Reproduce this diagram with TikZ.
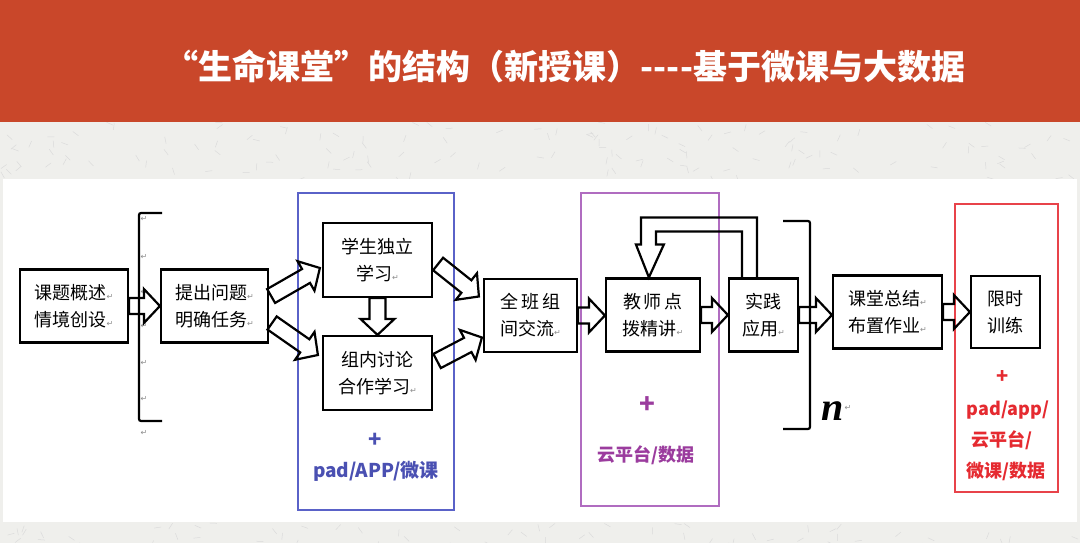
\documentclass[tikz,border=0pt]{standalone}
\usepackage{fontspec}
\usetikzlibrary{calc}
\newfontfamily\cjk{Noto Sans CJK SC}
\newfontfamily\djv{DejaVu Sans}
\newfontfamily\tms{Liberation Serif}
\definecolor{hdr}{HTML}{C9472A}
\definecolor{paper}{HTML}{EFEFEC}
\definecolor{bluebox}{HTML}{5A62C8}
\definecolor{bluetxt}{HTML}{4A50B2}
\definecolor{purpbox}{HTML}{B06CC0}
\definecolor{purptxt}{HTML}{9B3C9E}
\definecolor{redbox}{HTML}{E8434A}
\definecolor{redtxt}{HTML}{E52A30}
\newcommand\pmk{{\djv\fontsize{8}{8}\selectfont\textcolor{black!45}{↵}}}
\newcommand\barrow[2]{%
  \coordinate (bac) at ($(#2)!16pt!(#1)$);
  \draw[blk] ($(#1)!8pt!90:(#2)$) -- ($(bac)!8pt!90:(#2)$) -- ($(bac)!17pt!90:(#2)$) -- (#2)
    -- ($(bac)!17pt!-90:(#2)$) -- ($(bac)!8pt!-90:(#2)$) -- ($(#1)!8pt!-90:(#2)$) -- cycle;
}
\begin{document}
\begin{tikzpicture}[x=1pt,y=-1pt,
  box/.style={draw, line width=2.2pt, inner sep=0pt, align=center, font=\cjk\fontsize{18}{27}\selectfont},
  blk/.style={draw, line width=2.2pt, line join=miter},
  pm/.style={font=\djv\fontsize{8}{8}\selectfont, text=black!45, inner sep=0pt},
  frame/.style={line width=1.1pt},
]
\useasboundingbox (0,0) rectangle (1080,543);
\fill[paper] (0,0) rectangle (1080,543);
\pgfmathsetseed{11}
\foreach \i in {1,...,140} {
  \pgfmathsetmacro\xx{rnd*1080}
  \pgfmathsetmacro\yy{122+rnd*57}
  \pgfmathsetmacro\aa{rnd*180}
  \draw[black!14, line width=0.5pt] (\xx,\yy) -- ++(\aa:7);
}
\foreach \i in {1,...,60} {
  \pgfmathsetmacro\xx{rnd*1080}
  \pgfmathsetmacro\yy{523+rnd*20}
  \pgfmathsetmacro\aa{rnd*180}
  \draw[black!14, line width=0.5pt] (\xx,\yy) -- ++(\aa:7);
}
\fill[hdr] (0,0) rectangle (1080,122);
\fill[white] (3,179) rectangle (1077,522);
\node[font=\cjk\bfseries\fontsize{34}{34}\selectfont, text=white] (title) at (565,66) {“生命课堂”的结构（新授课）----基于微课与大数据};

% side frames
\draw[bluebox, frame] (298,193) rectangle (454,510);
\draw[purpbox, frame] (581,193) rectangle (719,506);
\draw[redbox, frame] (955,204) rectangle (1058,492);

% boxes
\node[box, minimum width=108pt, minimum height=73pt] (b1) at (74,306) {课题概述\pmk\\情境创设\pmk};
\node[box, minimum width=107pt, minimum height=73pt] (b2) at (214.5,306) {提出问题\pmk\\明确任务\pmk};
\node[box, minimum width=109pt, minimum height=74pt] (b3) at (377.5,260) {学生独立\\学习\pmk};
\node[box, minimum width=109pt, minimum height=74pt] (b4) at (377.5,373) {组内讨论\\合作学习\pmk};
\node[box, minimum width=93pt, minimum height=73pt] (b5) at (530.5,315.5) {全\,班\,组\\间交流\pmk};
\node[box, minimum width=94pt, minimum height=73pt] (b6) at (653,315) {教\,师\,点\\拨精讲\pmk};
\node[box, minimum width=69pt, minimum height=73pt] (b7) at (763.5,315) {实践\\应用\pmk};
\node[box, minimum width=109pt, minimum height=73pt] (b8) at (887.5,312) {课堂总结\pmk\\布置作业\pmk};
\node[box, minimum width=69pt, minimum height=72pt] (b9) at (1005.5,312) {限时\\训练};

% brackets
\draw[line width=2.2pt, rounded corners=2pt] (162,213) -- (139,213) -- (139,421) -- (162,421);
\draw[line width=2.2pt, rounded corners=2pt] (783,221) -- (810,221) -- (810,429) -- (783,429);
\foreach \yy in {219,257,292,326,363,399,433} \node[pm] at (144,\yy) {↵};
\node[font=\tms\bfseries\itshape\fontsize{40}{40}\selectfont, inner sep=0pt] (n) at (833,411) {n};
\node[pm, anchor=west] at ([yshift=3pt]n.east) {↵};

% block arrows
\coordinate (a12e) at (b1.east -| b2.west);
\barrow{b1.east}{a12e}
\coordinate (a23s) at ($(b2.east)+(2,-10)$);
\coordinate (a23e) at ($(b3.west)+(-2,8)$);
\barrow{a23s}{a23e}
\coordinate (a24s) at ($(b2.east)+(3,17)$);
\coordinate (a24e) at ($(b4.west)+(-4,-18)$);
\barrow{a24s}{a24e}
\barrow{b3.south}{b4.north}
\coordinate (a35s) at ($(b3.east)+(5,4)$);
\coordinate (a35e) at ($(b5.west)+(-4,-19)$);
\barrow{a35s}{a35e}
\coordinate (a45s) at ($(b4.east)+(4,-12)$);
\coordinate (a45e) at ($(b5.west)+(-1,22)$);
\barrow{a45s}{a45e}
\coordinate (a56e) at (b5.east -| b6.west);
\barrow{b5.east}{a56e}
\coordinate (a67e) at (b6.east -| b7.west);
\barrow{b6.east}{a67e}
\coordinate (a78e) at (b7.east -| b8.west);
\barrow{b7.east}{a78e}
\coordinate (a89e) at (b8.east -| b9.west);
\barrow{b8.east}{a89e}

% loop arrow from b7 back to b6
\draw[blk] ($(b7.north west)+(14,0)$) -- ($(b7.north west)+(14,-46)$) -- ($(b6.north west)+(51,-46)$)
  -- ($(b6.north west)+(51,-33)$) -- ($(b6.north west)+(59,-33)$) -- ($(b6.north west)+(44,0)$)
  -- ($(b6.north west)+(31,-33)$) -- ($(b6.north west)+(36,-33)$) -- ($(b6.north west)+(36,-60)$)
  -- ($(b7.north west)+(29,-60)$) -- ($(b7.north west)+(29,0)$);

% tool labels
\node[text=bluetxt, font=\cjk\bfseries\fontsize{22}{22}\selectfont] (bplus) at (375,440) {+};
\node[text=bluetxt, font=\cjk\bfseries\fontsize{19}{19}\selectfont] (btxt) at (376,471) {pad/APP/微课};
\node[text=purptxt, font=\cjk\bfseries\fontsize{26}{26}\selectfont] (pplus) at (647,405) {+};
\node[text=purptxt, font=\cjk\bfseries\fontsize{18}{18}\selectfont] (ptxt) at (646,455) {云平台/数据};
\node[text=redtxt, font=\cjk\bfseries\fontsize{20}{20}\selectfont] (rplus) at (1003,377) {+};
\node[text=redtxt, font=\cjk\bfseries\fontsize{18}{18}\selectfont] (r1) at (1008,410) {pad/app/};
\node[text=redtxt, font=\cjk\bfseries\fontsize{18}{18}\selectfont] (r2) at (1002,440) {云平台/};
\node[text=redtxt, font=\cjk\bfseries\fontsize{18}{18}\selectfont] (r3) at (1006,471) {微课/数据};
\end{tikzpicture}
\end{document}
